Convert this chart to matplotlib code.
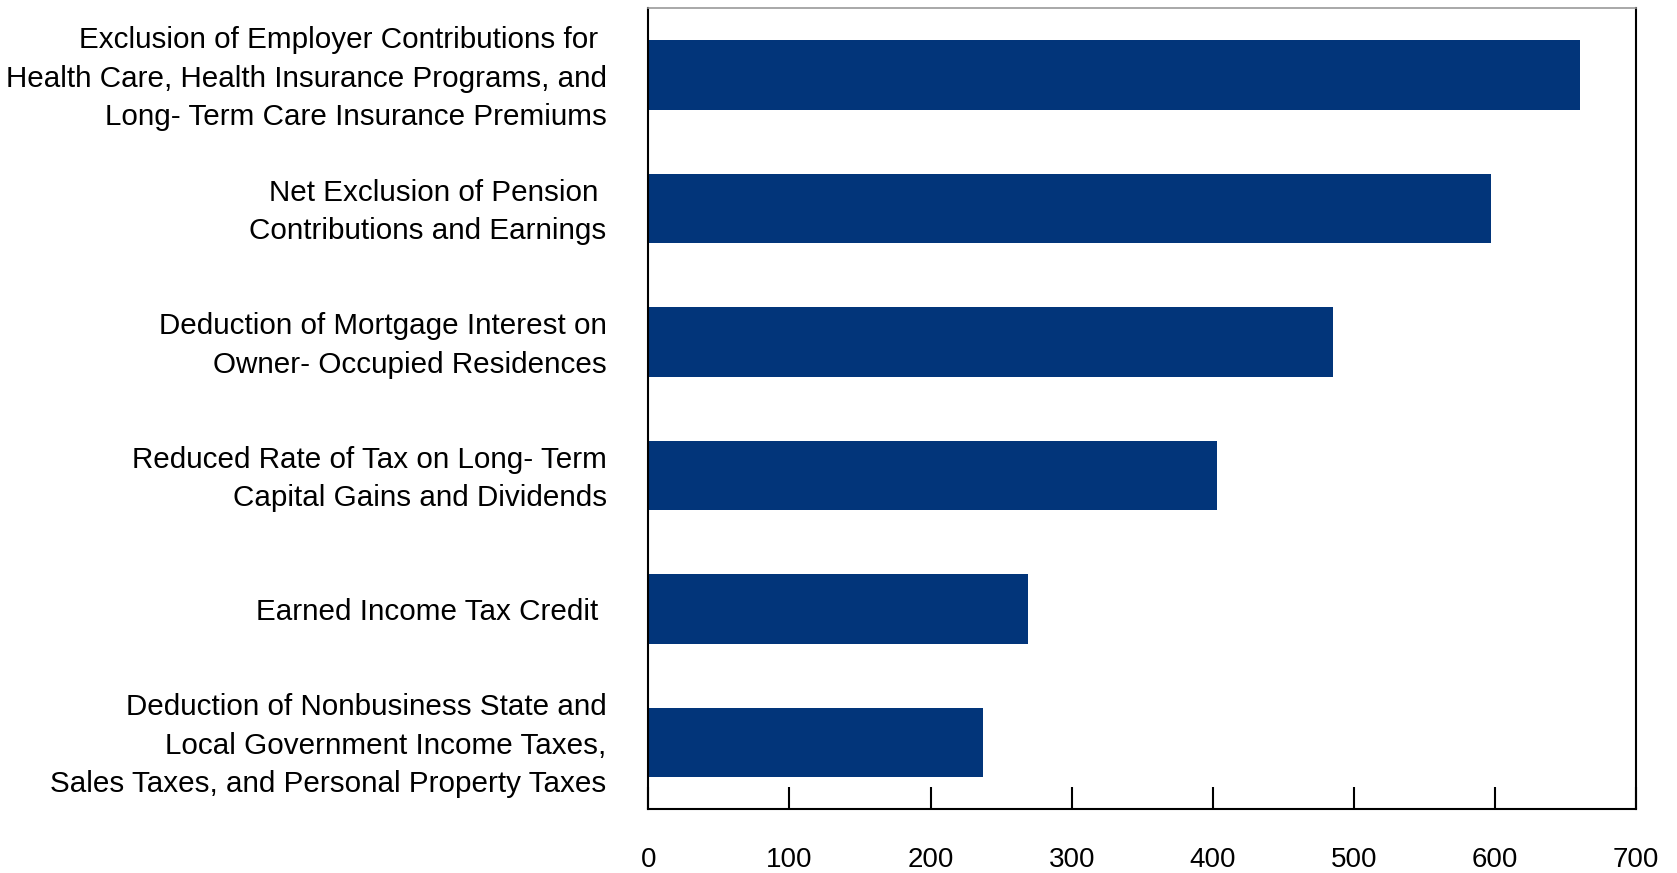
import numpy as np
import matplotlib.pyplot as plt
import matplotlib.transforms as mtransforms

plt.rcParams['font.family'] = ['Liberation Sans', 'DejaVu Sans']

# tax expenditures, top to bottom
labels = [
    "Exclusion of Employer Contributions for \nHealth Care, Health Insurance Programs, and\nLong- Term Care Insurance Premiums",
    "Net Exclusion of Pension \nContributions and Earnings",
    "Deduction of Mortgage Interest on\nOwner- Occupied Residences",
    "Reduced Rate of Tax on Long- Term\nCapital Gains and Dividends",
    "Earned Income Tax Credit ",
    "Deduction of Nonbusiness State and\nLocal Government Income Taxes,\nSales Taxes, and Personal Property Taxes",
]
values = [660, 597, 485, 403, 269, 237]
xticks = [0, 100, 200, 300, 400, 500, 600, 700]

fig = plt.figure(figsize=(16.77, 8.73), dpi=100)
ax = fig.add_axes([0.3866, 0.0733, 0.589, 0.917])

y = np.arange(len(values))
ax.barh(y, values, height=0.52, color='#02357a')

ax.set_xlim(0, 700)
ax.set_ylim(len(values) - 0.5, -0.5)
ax.set_xticks(xticks)
ax.set_xticklabels([str(t) for t in xticks], fontsize=20)
ax.set_yticks(y)
ax.set_yticklabels(labels, fontsize=21.3, linespacing=1.47, va='center')

ax.tick_params(axis='x', direction='in', length=15.5, width=1.5, pad=27, color='black')
ax.tick_params(axis='y', length=0, pad=30)

# nudge the category labels down a touch
shift = mtransforms.ScaledTranslation(0, -0.035, fig.dpi_scale_trans)
for lab in ax.get_yticklabels():
    lab.set_transform(lab.get_transform() + shift)

for s in ['left', 'bottom', 'right']:
    ax.spines[s].set_linewidth(1.5)
    ax.spines[s].set_color('black')
ax.spines['top'].set_color('#999999')
ax.spines['top'].set_linewidth(1.2)

fig.savefig('out.png', dpi=100)
